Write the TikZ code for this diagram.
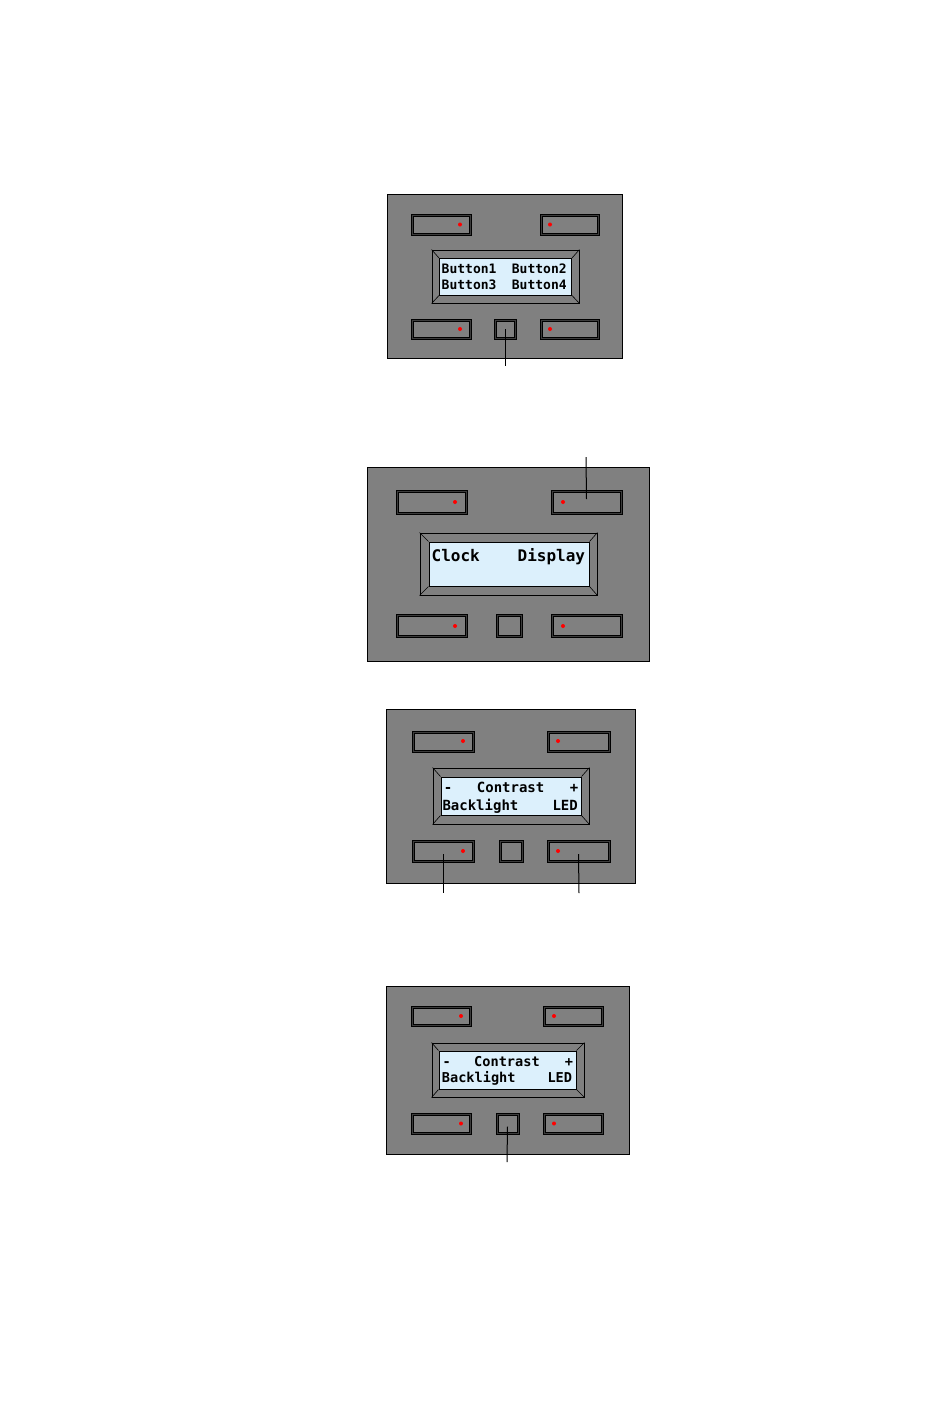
\documentclass[tikz,border=0pt]{standalone}
\usepackage{fontspec}
\usetikzlibrary{calc}
\newfontfamily\lcdfont{DejaVu Sans Mono}
\definecolor{panelgray}{HTML}{808080}
\definecolor{ringgray}{HTML}{3C3C3C}
\definecolor{lcdblue}{HTML}{DCF0FC}
\tikzset{
  panelbox/.style={draw=black, line width=1pt, fill=panelgray, inner sep=0pt},
  btnouter/.style={draw=black, line width=1pt, fill=ringgray, inner sep=0pt},
  btninner/.style={draw=black, line width=1pt, fill=panelgray, inner sep=0pt},
  framebox/.style={draw=black, line width=1pt, fill=panelgray, inner sep=0pt},
  screenbox/.style={draw=black, line width=1pt, fill=lcdblue, inner sep=0pt},
  leddot/.style={circle, fill=red, draw=none, minimum size=4pt, inner sep=0pt},
  lcdword/.style={inner sep=0pt, anchor=base west, text=black},
  lcdsign/.style={inner sep=0pt, anchor=base, text=black},
  bevel/.style={draw=black, line width=0.6pt},
  lead/.style={draw=black, line width=1pt}
}
\newcommand\boxnode[6]{\node[#2, minimum width={(#5-#3)*1pt}, minimum height={(#6-#4)*1pt}] (#1) at ({(#3+#5)/2},{(#4+#6)/2}) {};}
\newcommand\lcdbtn[5]{\boxnode{#1}{btnouter}{#2}{#3}{#4}{#5}%
  \node[btninner, minimum width={(#4-#2-4)*1pt}, minimum height={(#5-#3-4)*1pt}] (#1i) at (#1.center) {};}
\newcommand\lcdframe[9]{\boxnode{#1}{framebox}{#2}{#3}{#4}{#5}%
  \boxnode{#1s}{screenbox}{#6}{#7}{#8}{#9}%
  \draw[bevel] (#1.north west) -- (#1s.north west);
  \draw[bevel] (#1.north east) -- (#1s.north east);
  \draw[bevel] (#1.south west) -- (#1s.south west);
  \draw[bevel] (#1.south east) -- (#1s.south east);}
\begin{document}
\begin{tikzpicture}[x=1pt, y=-1pt]
\useasboundingbox (0,0) rectangle (950,1409);
\fill[white] (0,0) rectangle (950,1409);

% ---------- Panel 1 ----------
\boxnode{pA}{panelbox}{387}{194}{622}{358}
\lcdbtn{pAtl}{411}{214}{471}{235}
\lcdbtn{pAtr}{540}{214}{599}{235}
\lcdbtn{pAbl}{411}{319}{471}{339}
\lcdbtn{pAsm}{494}{319}{516}{339}
\lcdbtn{pAbr}{540}{319}{599}{339}
\node[leddot] (pAd1) at (460,224.5) {};
\node[leddot] (pAd2) at (550,224.5) {};
\node[leddot] (pAd3) at (460,329) {};
\node[leddot] (pAd4) at (550,329) {};
\lcdframe{pAf}{432}{250}{579}{303}{439.5}{258.5}{571.5}{295}
\begin{scope}[every node/.append style={font=\lcdfont\bfseries\fontsize{13}{15}\selectfont}]
\node[lcdword] (pAt1) at (441.5,273) {Button1};
\node[lcdword] (pAt2) at (511.7,273) {Button2};
\node[lcdword] (pAt3) at (441.5,289) {Button3};
\node[lcdword] (pAt4) at (511.7,289) {Button4};
\end{scope}
\coordinate (pAend) at (505,366);
\draw[lead] (pAsm.center) -- (pAend);

% ---------- Panel 2 ----------
\boxnode{pB}{panelbox}{367}{467}{649}{661}
\lcdbtn{pBtl}{396}{490}{467}{514}
\lcdbtn{pBtr}{551}{490}{622}{514}
\lcdbtn{pBbl}{396}{614}{467}{637}
\lcdbtn{pBsm}{496}{614}{522}{637}
\lcdbtn{pBbr}{551}{614}{622}{637}
\node[leddot] (pBd1) at (455,502) {};
\node[leddot] (pBd2) at (563,502) {};
\node[leddot] (pBd3) at (455,626) {};
\node[leddot] (pBd4) at (563,626) {};
\lcdframe{pBf}{420}{533}{597}{595}{429}{542}{589}{586}
\begin{scope}[every node/.append style={font=\lcdfont\bfseries\fontsize{16}{18}\selectfont}]
\node[lcdword] (pBt1) at (431.5,561) {Clock};
\node[lcdword] (pBt2) at (517.5,561) {Display};
\end{scope}
\coordinate (pBend) at (586,457);
\draw[lead] (pBend) -- ($(pBtr.center)+(0,-3)$);

% ---------- Panel 3 ----------
\boxnode{pC}{panelbox}{386}{709}{635}{883}
\lcdbtn{pCtl}{412}{731}{474}{752}
\lcdbtn{pCtr}{547}{731}{610}{752}
\lcdbtn{pCbl}{412}{840}{474}{862}
\lcdbtn{pCsm}{499}{840}{523}{862}
\lcdbtn{pCbr}{547}{840}{610}{862}
\node[leddot] (pCd1) at (463,741) {};
\node[leddot] (pCd2) at (558,741) {};
\node[leddot] (pCd3) at (463,851) {};
\node[leddot] (pCd4) at (558,851) {};
\lcdframe{pCf}{433}{768}{589}{824}{441}{777}{581}{815}
\begin{scope}[every node/.append style={font=\lcdfont\bfseries\fontsize{14}{16}\selectfont}]
\node[lcdsign] (pCt1) at (448,792.5) {-};
\node[lcdword] (pCt2) at (476.7,792.5) {Contrast};
\node[lcdsign] (pCt3) at (574,792.5) {+};
\node[lcdword] (pCt4) at (442.3,810) {Backlight};
\node[lcdword] (pCt5) at (552.3,810) {LED};
\end{scope}
\coordinate (pCend1) at (443,893);
\coordinate (pCend2) at (579,893);
\draw[lead] ($(pCbl.center)+(0,3)$) -- (pCend1);
\draw[lead] ($(pCbr.center)+(0,3)$) -- (pCend2);

% ---------- Panel 4 ----------
\boxnode{pD}{panelbox}{386}{986}{629}{1154}
\lcdbtn{pDtl}{411}{1006}{471}{1026}
\lcdbtn{pDtr}{543}{1006}{603}{1026}
\lcdbtn{pDbl}{411}{1113}{471}{1134}
\lcdbtn{pDsm}{496}{1113}{519}{1134}
\lcdbtn{pDbr}{543}{1113}{603}{1134}
\node[leddot] (pDd1) at (461,1016) {};
\node[leddot] (pDd2) at (554,1016) {};
\node[leddot] (pDd3) at (461,1123.5) {};
\node[leddot] (pDd4) at (554,1123.5) {};
\lcdframe{pDf}{432}{1043}{584}{1097}{439}{1051}{576}{1089}
\begin{scope}[every node/.append style={font=\lcdfont\bfseries\fontsize{13.6}{16}\selectfont}]
\node[lcdsign] (pDt1) at (446.7,1066) {-};
\node[lcdword] (pDt2) at (474,1066) {Contrast};
\node[lcdsign] (pDt3) at (569,1066) {+};
\node[lcdword] (pDt4) at (441.7,1082.7) {Backlight};
\node[lcdword] (pDt5) at (547.3,1082.7) {LED};
\end{scope}
\coordinate (pDend) at (507,1162);
\draw[lead] ($(pDsm.center)+(0,3)$) -- (pDend);
\end{tikzpicture}
\end{document}
